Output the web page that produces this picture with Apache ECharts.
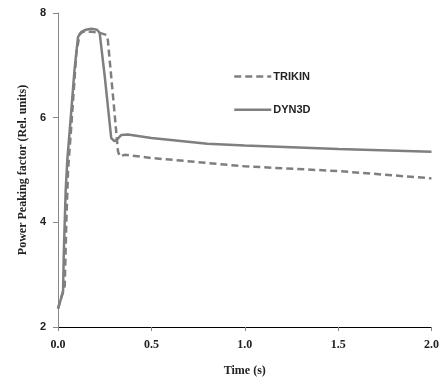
<!DOCTYPE html>
<html><head><meta charset="utf-8">
<script src="https://cdn.jsdelivr.net/npm/echarts@6/dist/echarts.min.js"></script>
<style>html,body{margin:0;padding:0;background:#fff}#c{width:442px;height:382px}</style>
</head><body><div id="c"></div>
<script>
var dyn3dT = [0, 0.027, 0.031, 0.041, 0.05, 0.066, 0.088, 0.107, 0.125, 0.15, 0.178, 0.209, 0.223, 0.25, 0.285, 0.303, 0.316, 0.339, 0.374, 0.5, 0.8, 1.0, 1.5, 2.0];
var dyn3dV = [2.35, 2.67, 3.4, 4.6, 5.2, 5.9, 6.9, 7.54, 7.64, 7.68, 7.70, 7.68, 7.62, 6.8, 5.61, 5.55, 5.58, 5.67, 5.68, 5.61, 5.50, 5.47, 5.40, 5.35];
var trikinT = [0, 0.036, 0.045, 0.054, 0.071, 0.098, 0.116, 0.134, 0.18, 0.223, 0.26, 0.267, 0.3, 0.321, 0.33, 0.357, 0.5, 1.0, 1.5, 2.0];
var trikinV = [2.35, 2.79, 4.06, 5.01, 5.83, 7.23, 7.6, 7.64, 7.64, 7.62, 7.58, 7.48, 6.2, 5.36, 5.26, 5.29, 5.23, 5.07, 4.98, 4.84];
var xTicks = [0, 0.5, 1.0, 1.5, 2.0];
var yTicks = [2, 4, 6, 8];

function pairs(t, v){ return t.map(function(x,i){return [x, v[i]];}); }
var chart = echarts.init(document.getElementById('c'));
var serif = '"Liberation Serif", "DejaVu Serif", serif';
var sans = '"Liberation Sans", "DejaVu Sans", sans-serif';
chart.setOption({
  animation: false,
  grid: {left: 58, right: 10, top: 13, bottom: 54},
  legend: {
    orient: 'vertical', left: 228, top: 66, itemWidth: 37, itemHeight: 14, itemGap: 22,
    itemStyle: {opacity: 0},
    lineStyle: {width: 2.5},
    textStyle: {fontFamily: sans, fontWeight: 'bold', fontSize: 11, color: '#222', padding: [0, 0, 0, -3]},
    data: ['TRIKIN', 'DYN3D']
  },
  xAxis: {
    type: 'value', min: 0, max: 2, interval: 0.5,
    name: 'Time (s)', nameLocation: 'middle', nameGap: 38,
    nameTextStyle: {fontFamily: serif, fontWeight: 'bold', fontSize: 12, color: '#222'},
    axisLine: {lineStyle: {color: '#000', width: 1}},
    axisTick: {show: true, length: 4, lineStyle: {color: '#888'}},
    axisLabel: {margin: 12, fontFamily: serif, fontWeight: 'bold', fontSize: 12, color: '#222',
      formatter: function(v){ return xTicks.indexOf(v) >= 0 ? v.toFixed(1) : ''; }},
    splitLine: {show: false}
  },
  yAxis: {
    type: 'value', min: 2, max: 8, interval: 2,
    name: 'Power Peaking factor (Rel. units)', nameLocation: 'middle', nameGap: 29,
    nameTextStyle: {fontFamily: serif, fontWeight: 'bold', fontSize: 12, color: '#222'},
    axisLine: {show: true, lineStyle: {color: '#888', width: 1}},
    axisTick: {show: true, length: 5, lineStyle: {color: '#888'}},
    axisLabel: {margin: 12, fontFamily: sans, fontWeight: 'bold', fontSize: 11, color: '#222',
      formatter: function(v){ return yTicks.indexOf(v) >= 0 ? String(v) : ''; }},
    splitLine: {show: false}
  },
  series: [
    {name: 'TRIKIN', type: 'line', data: pairs(trikinT, trikinV), symbol: 'none', smooth: false,
     lineStyle: {color: '#7f7f7f', width: 2.5, type: [7, 4]}, itemStyle: {color: '#7f7f7f'}},
    {name: 'DYN3D', type: 'line', data: pairs(dyn3dT, dyn3dV), symbol: 'none', smooth: false,
     lineStyle: {color: '#7f7f7f', width: 2.5}, itemStyle: {color: '#7f7f7f'}}
  ]
});
</script></body></html>
